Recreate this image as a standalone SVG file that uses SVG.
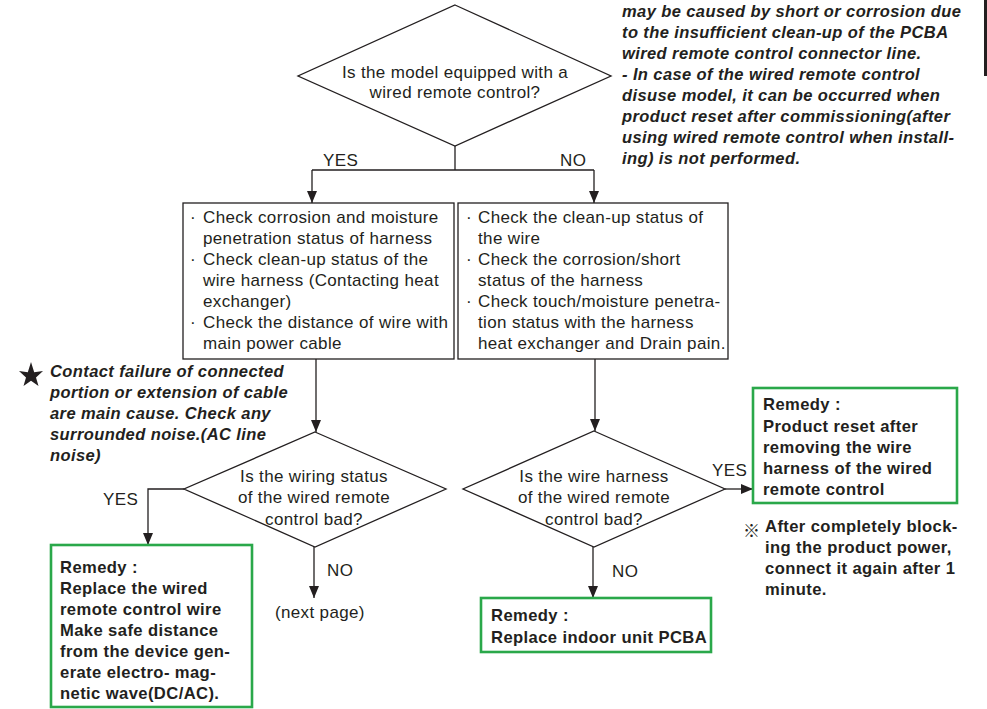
<svg xmlns="http://www.w3.org/2000/svg" width="987" height="709" viewBox="0 0 987 709">
<defs>
<marker id="arr" markerUnits="userSpaceOnUse" markerWidth="12" markerHeight="10" refX="12" refY="5" orient="auto">
<path d="M0,0 L12,5 L0,10 z" fill="#231f20"/>
</marker>
<style>
.reg{font-family:"Liberation Sans",Arial,sans-serif;font-size:17px;letter-spacing:0.35px;fill:#231f20}
.bold{font-family:"Liberation Sans",Arial,sans-serif;font-size:16.6px;font-weight:bold;letter-spacing:0.4px;fill:#231f20}
.bi{font-family:"Liberation Sans",Arial,sans-serif;font-size:16.5px;font-weight:bold;font-style:italic;letter-spacing:0.4px;fill:#231f20}
.mid{text-anchor:middle}
.shape{fill:#fff;stroke:#231f20;stroke-width:1.3}
.green{fill:#fff;stroke:#2aa84a;stroke-width:2.6}
.conn{fill:none;stroke:#231f20;stroke-width:1.3}
</style>
</defs>
<rect width="987" height="709" fill="#fff"/>
<rect x="984" y="0" width="3" height="76" fill="#231f20"/>

<g id="connectors">
<path class="conn" d="M455,146 V170 M312,170 H594"/>
<path class="conn" d="M312,170 V203" marker-end="url(#arr)"/>
<path class="conn" d="M594,170 V203" marker-end="url(#arr)"/>
<path class="conn" d="M316,359 V432" marker-end="url(#arr)"/>
<path class="conn" d="M595,359 V431" marker-end="url(#arr)"/>
<path class="conn" d="M184,489 H148 V545" marker-end="url(#arr)"/>
<path class="conn" d="M314,547 V598" marker-end="url(#arr)"/>
<path class="conn" d="M725,489 H753" marker-end="url(#arr)"/>
<path class="conn" d="M593,547 V598" marker-end="url(#arr)"/>
</g>

<g id="labels">
<text class="reg" x="323" y="166">YES</text>
<text class="reg" x="560" y="166">NO</text>
<text class="reg" x="103" y="505">YES</text>
<text class="reg" x="327" y="576">NO</text>
<text class="reg" x="712" y="476">YES</text>
<text class="reg" x="612" y="577">NO</text>
<text class="reg" x="275" y="618">(next page)</text>
</g>

<g id="q1">
<polygon class="shape" points="455,5 611,76 455,146 298,76"/>
<text class="reg mid" x="455" y="78">Is the model equipped with a</text>
<text class="reg mid" x="455" y="98">wired remote control?</text>
</g>

<g id="note-top">
<text class="bi" x="622" y="17">may be caused by short or corrosion due</text>
<text class="bi" x="622" y="38">to the insufficient clean-up of the PCBA</text>
<text class="bi" x="622" y="59">wired remote control connector line.</text>
<text class="bi" x="622" y="80">- In case of the wired remote control</text>
<text class="bi" x="622" y="101">disuse model, it can be occurred when</text>
<text class="bi" x="622" y="122">product reset after commissioning(after</text>
<text class="bi" x="622" y="143">using wired remote control when install-</text>
<text class="bi" x="622" y="164">ing) is not performed.</text>
</g>

<g id="check-yes">
<rect class="shape" x="183" y="203" width="271" height="156"/>
<text class="reg" x="190" y="223">·</text><text class="reg" x="203" y="223">Check corrosion and moisture</text>
<text class="reg" x="203" y="244">penetration status of harness</text>
<text class="reg" x="190" y="265">·</text><text class="reg" x="203" y="265">Check clean-up status of the</text>
<text class="reg" x="203" y="286">wire harness (Contacting heat</text>
<text class="reg" x="203" y="307">exchanger)</text>
<text class="reg" x="190" y="328">·</text><text class="reg" x="203" y="328">Check the distance of wire with</text>
<text class="reg" x="203" y="349">main power cable</text>
</g>

<g id="check-no">
<rect class="shape" x="458" y="203" width="270" height="156"/>
<text class="reg" x="466" y="223">·</text><text class="reg" x="478" y="223">Check the clean-up status of</text>
<text class="reg" x="478" y="244">the wire</text>
<text class="reg" x="466" y="265">·</text><text class="reg" x="478" y="265">Check the corrosion/short</text>
<text class="reg" x="478" y="286">status of the harness</text>
<text class="reg" x="466" y="307">·</text><text class="reg" x="478" y="307">Check touch/moisture penetra-</text>
<text class="reg" x="478" y="328">tion status with the harness</text>
<text class="reg" x="478" y="349">heat exchanger and Drain pain.</text>
</g>

<g id="note-star">
<polygon points="31,362 34.2,372.3 43,371 36,377.6 38.5,386 31,380.7 23.5,386 26,377.6 19,371 27.8,372.3" fill="#231f20"/>
<text class="bi" x="50" y="377">Contact failure of connected</text>
<text class="bi" x="50" y="398">portion or extension of cable</text>
<text class="bi" x="50" y="419">are main cause. Check any</text>
<text class="bi" x="50" y="440">surrounded noise.(AC line</text>
<text class="bi" x="50" y="461">noise)</text>
</g>

<g id="q2">
<polygon class="shape" points="315,432 446,489 315,547 184,489"/>
<text class="reg mid" x="314" y="482">Is the wiring status</text>
<text class="reg mid" x="314" y="503">of the wired remote</text>
<text class="reg mid" x="314" y="525">control bad?</text>
</g>

<g id="q3">
<polygon class="shape" points="594,431 725,489 594,547 463,489"/>
<text class="reg mid" x="594" y="482">Is the wire harness</text>
<text class="reg mid" x="594" y="503">of the wired remote</text>
<text class="reg mid" x="594" y="525">control bad?</text>
</g>

<g id="remedy-wire">
<rect class="green" x="51" y="545" width="201" height="162"/>
<text class="bold" x="60" y="573">Remedy :</text>
<text class="bold" x="60" y="594">Replace the wired</text>
<text class="bold" x="60" y="615">remote control wire</text>
<text class="bold" x="60" y="636">Make safe distance</text>
<text class="bold" x="60" y="657">from the device gen-</text>
<text class="bold" x="60" y="678">erate electro- mag-</text>
<text class="bold" x="60" y="699">netic wave(DC/AC).</text>
</g>

<g id="remedy-reset">
<rect class="green" x="753" y="388" width="204" height="115"/>
<text class="bold" x="763" y="410">Remedy :</text>
<text class="bold" x="763" y="432">Product reset after</text>
<text class="bold" x="763" y="453">removing the wire</text>
<text class="bold" x="763" y="474">harness of the wired</text>
<text class="bold" x="763" y="495">remote control</text>
</g>

<g id="note-reset">
<text x="743" y="537" style="font-family:'Noto Sans CJK JP','DejaVu Sans',sans-serif;font-size:17px;fill:#231f20">※</text>
<text class="bold" x="765" y="532">After completely block-</text>
<text class="bold" x="765" y="553">ing the product power,</text>
<text class="bold" x="765" y="574">connect it again after 1</text>
<text class="bold" x="765" y="595">minute.</text>
</g>

<g id="remedy-pcba">
<rect class="green" x="481" y="598" width="230" height="54"/>
<text class="bold" x="491" y="621">Remedy :</text>
<text class="bold" x="491" y="643">Replace indoor unit PCBA</text>
</g>
</svg>
